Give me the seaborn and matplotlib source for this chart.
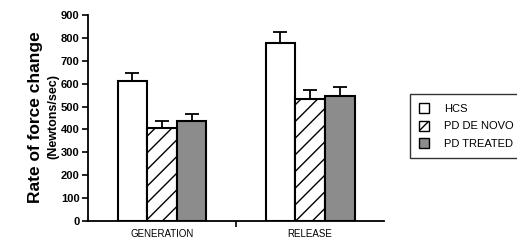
import matplotlib
matplotlib.use("Agg")
import matplotlib.pyplot as plt
import seaborn as sns
import pandas as pd
from matplotlib.patches import Patch

phases = ["GENERATION", "RELEASE"]
groups = ["HCS", "PD DE NOVO", "PD TREATED"]
hcs = [611, 780]
denovo = [405, 533]
treated = [438, 547]
hcs_err = [37, 47]
denovo_err = [33, 39]
treated_err = [29, 37]

df = pd.DataFrame({
    "phase": phases * 3,
    "group": [g for g in groups for _ in phases],
    "value": hcs + denovo + treated,
    "err": hcs_err + denovo_err + treated_err,
})

sns.set_style("ticks")
plt.rcParams["font.family"] = ["Liberation Sans", "DejaVu Sans"]
for k in ["text.color", "axes.labelcolor", "xtick.color", "ytick.color", "axes.edgecolor"]:
    plt.rcParams[k] = "black"
plt.rcParams["hatch.linewidth"] = 1.0

fig = plt.figure(figsize=(5.17, 2.43), dpi=100)
ax = fig.add_axes([0.170, 0.0905, 0.573, 0.8475])

fills = {"HCS": "white", "PD DE NOVO": "white", "PD TREATED": "#8c8c8c"}
hatches = {"HCS": "", "PD DE NOVO": "//", "PD TREATED": ""}

sns.barplot(data=df, x="phase", y="value", hue="group", order=phases,
            hue_order=groups, palette=fills, width=0.6, gap=0,
            edgecolor="black", linewidth=1.5, legend=False, ax=ax, errorbar=None)

for i, g in enumerate(groups):
    cont = ax.containers[i]
    for bar in cont:
        bar.set_hatch(hatches[g])
    sub = df[df.group == g].set_index("phase").loc[phases]
    xs = [b.get_x() + b.get_width() / 2 for b in cont]
    ax.errorbar(xs, sub["value"], yerr=[[0] * len(xs), sub["err"]], fmt="none",
                ecolor="black", elinewidth=1.3, capsize=5, capthick=1.3, zorder=1)

ax.set_xlim(-0.5, 1.5)
ax.set_ylim(0, 900)
ax.set_yticks(range(0, 901, 100))
ax.tick_params(axis="y", labelsize=8, length=4, width=1.2, pad=2)
ax.set_xticks([0, 1])
ax.set_xticklabels(phases, fontsize=7)
ax.tick_params(axis="x", length=0, pad=6)
ax.set_xticks([0.5], minor=True)
ax.tick_params(axis="x", which="minor", length=4, width=1.2, direction="out")
for lbl in ax.get_yticklabels():
    lbl.set_fontweight("bold")
ax.set_xlabel("")
ax.set_ylabel("")
for s in ["left", "bottom"]:
    ax.spines[s].set_linewidth(1.3)
sns.despine(ax=ax)

fig.text(0.068, 0.52, "Rate of force change", rotation=90, fontsize=12.5,
         fontweight="bold", ha="center", va="center")
fig.text(0.103, 0.52, "(Newtons/sec)", rotation=90, fontsize=9,
         fontweight="bold", ha="center", va="center")

handles = [Patch(facecolor=fills[g], edgecolor="black", hatch=hatches[g], label=g)
           for g in groups]
leg = fig.legend(handles=handles, loc="upper left", bbox_to_anchor=(0.783, 0.635),
                 fontsize=8, frameon=True, fancybox=False, edgecolor="black",
                 handlelength=0.9, handleheight=1.0, handletextpad=1.3,
                 borderpad=0.8, labelspacing=0.6)
leg.get_frame().set_linewidth(1.0)

fig.savefig("out.png", dpi=100)
